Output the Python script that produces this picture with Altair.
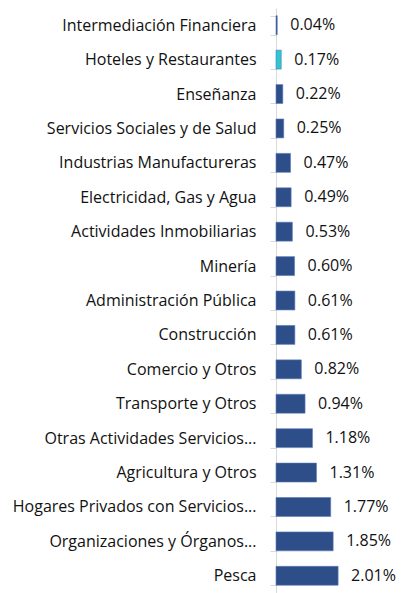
import altair as alt
import pandas as pd

categories = [
    "Intermediación Financiera",
    "Hoteles y Restaurantes",
    "Enseñanza",
    "Servicios Sociales y de Salud",
    "Industrias Manufactureras",
    "Electricidad, Gas y Agua",
    "Actividades Inmobiliarias",
    "Minería",
    "Administración Pública",
    "Construcción",
    "Comercio y Otros",
    "Transporte y Otros",
    "Otras Actividades Servicios...",
    "Agricultura y Otros",
    "Hogares Privados con Servicios...",
    "Organizaciones y Órganos...",
    "Pesca",
]
values = [0.04, 0.17, 0.22, 0.25, 0.47, 0.49, 0.53, 0.60, 0.61, 0.61,
          0.82, 0.94, 1.18, 1.31, 1.77, 1.85, 2.01]
highlight = "Hoteles y Restaurantes"

df = pd.DataFrame({"cat": categories, "val": values})
df["label"] = df["val"].map(lambda v: f"{v:.2f}%")
df["hl"] = df["cat"] == highlight

FONT = "Open Sans"

y = alt.Y("cat:N", sort=categories, title=None,
          scale=alt.Scale(paddingInner=0.45, paddingOuter=0.225),
          axis=alt.Axis(labelFont=FONT, labelFontSize=16, labelColor="#111111",
                        labelPadding=14, tickBand="extent", tickSize=6,
                        tickColor="#d9d9d9", domainColor="#d9d9d9",
                        labelLimit=300))
x = alt.X("val:Q", title=None, scale=alt.Scale(domain=[0, 3.98]), axis=None)

bars = alt.Chart(df).mark_bar(stroke="#5b7bb5", strokeWidth=0.6).encode(
    x=x, y=y,
    color=alt.condition(alt.datum.hl, alt.value("#2ec6cf"), alt.value("#2e4e8a")),
)
text = alt.Chart(df).mark_text(align="left", dx=13, font=FONT, fontSize=16,
                               color="#111111").encode(x=x, y=y, text="label:N")

chart = (bars + text).properties(
    width=123, height=585,
    autosize=alt.AutoSizeParams(type="none"),
    padding={"left": 268, "top": 0, "right": 0, "bottom": 0},
).configure_view(stroke=None)

chart.save("out.html", embed_options={"renderer": "svg", "actions": False})
